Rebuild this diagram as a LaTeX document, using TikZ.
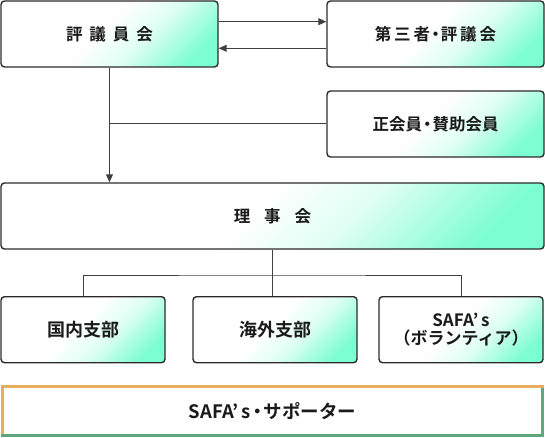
\documentclass[tikz,border=0pt]{standalone}
\usepackage{fontspec}
\setmainfont{Noto Sans CJK JP}[BoldFont={Noto Sans CJK JP Bold}]
\usetikzlibrary{arrows.meta,calc}
\definecolor{aqua}{HTML}{7DFDD2}
\definecolor{edge}{HTML}{2E2A2A}
\definecolor{txt}{HTML}{1A1A1A}
\definecolor{orng}{HTML}{E8AE5E}
\definecolor{grn}{HTML}{5FA87E}
\pgfdeclarehorizontalshading{diagfade}{100bp}{color(0bp)=(white); color(47bp)=(white); color(60bp)=(aqua!25); color(77bp)=(aqua); color(100bp)=(aqua)}
\newcommand{\nakaguro}{\kern-3pt・\kern-3pt}
\tikzset{
  box/.style={draw=edge, line width=1.4pt, rounded corners=3.5pt, shading=diagfade, shading angle=-45,
    minimum height=66pt, inner sep=0pt, align=center, text=txt,
    font=\bfseries\fontsize{16.5}{18}\selectfont},
  conn/.style={draw=edge!90, line width=1pt},
  arr/.style={conn, -{Triangle[length=8pt,width=7pt]}},
}
\begin{document}
\begin{tikzpicture}[x=1pt,y=-1pt]
\useasboundingbox (0,0) rectangle (545,438);
\node[box, minimum width=217pt] (hyogi) at (109.5,34) {評\hspace{7pt}議\hspace{7pt}員\hspace{7pt}会};
\node[box, minimum width=217pt] (daisan) at (435.5,34) {第\hspace{3pt}三\hspace{3pt}者\nakaguro 評\hspace{3pt}議\hspace{3pt}会};
\node[box, minimum width=217pt] (seikai) at (435.5,124) {正会員\nakaguro 賛助会員};
\node[box, minimum width=543pt] (riji) at (272.5,216) {理\hspace{14pt}事\hspace{14pt}会};
\node[box, minimum width=164pt, font=\bfseries\fontsize{18}{20}\selectfont] (kokunai) at (83,329.7) {国内支部};
\node[box, minimum width=164pt, font=\bfseries\fontsize{18}{20}\selectfont] (kaigai) at (275,329.7) {海外支部};
\node[box, minimum width=164pt, font=\bfseries\fontsize{17}{18.5}\selectfont] (safa) at (461,329.7) {SAFA'\,s\\（ボランティア）};
\node[minimum width=543pt, minimum height=52pt, inner sep=0pt, text=txt,
  font=\bfseries\fontsize{18.5}{20}\selectfont] (sup) at (272.5,411) {SAFA'\,s\nakaguro サポーター};
% bottom frame
\draw[orng, line width=3pt] ($(sup.south west)+(1.5,-1.5)$) |- ($(sup.north east)+(0,1.5)$);
\draw[grn, line width=3pt] ($(sup.north east)+(-1.5,3)$) |- ($(sup.south west)+(0,-1.5)$);
% connectors
\draw[arr] ([yshift=12.3pt]hyogi.east) -- ([yshift=12.3pt]daisan.west);
\draw[arr] ([yshift=-14.3pt]daisan.west) -- ([yshift=-14.3pt]hyogi.east);
\draw[arr] (hyogi.south) -- (hyogi.south |- riji.north);
\draw[conn] (seikai.west) -- (seikai.west -| hyogi.south);
\coordinate (bus) at (272.5,275);
\draw[conn] (riji.south) -- (riji.south |- kaigai.north);
\draw[conn] (kokunai.north) |- (bus) -| (safa.north);
\end{tikzpicture}
\end{document}
